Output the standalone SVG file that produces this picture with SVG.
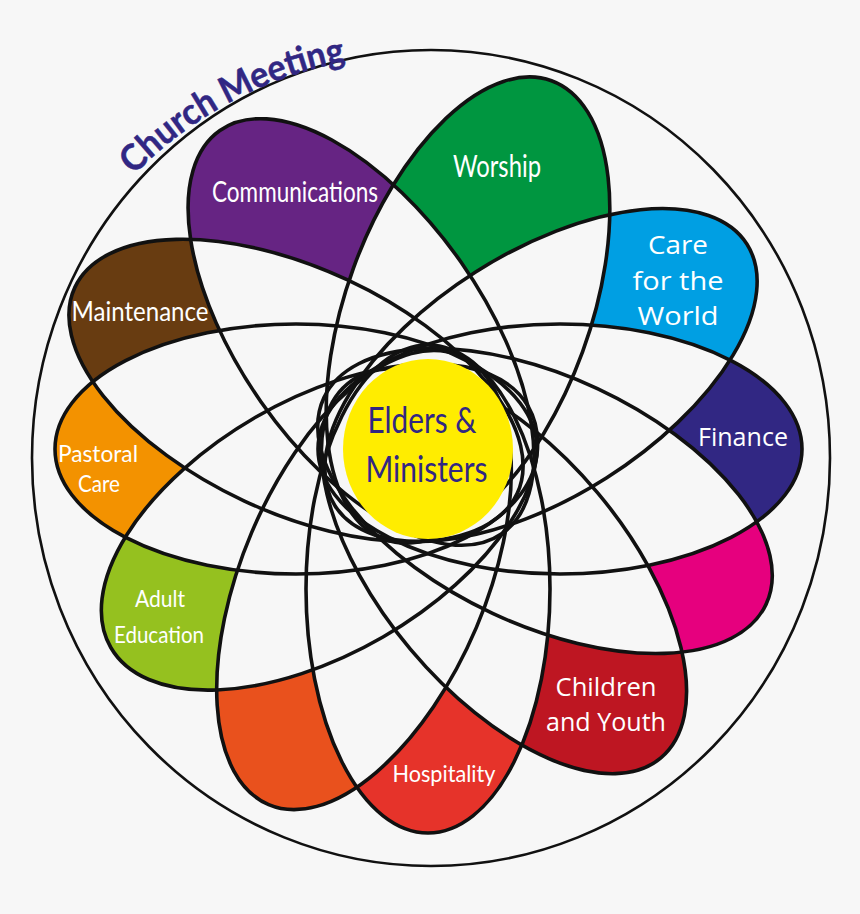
<svg xmlns="http://www.w3.org/2000/svg" width="860" height="914" viewBox="0 0 860 914">
<style>
.o{fill:none;stroke:#111;stroke-width:3.6}
.l text{fill:#fff;font-family:Lato,"Liberation Sans",sans-serif;text-anchor:middle;font-size:28px}
.l text.w{font-family:"Open Sans","Liberation Sans",sans-serif;font-size:25px}
.l text.s{font-size:24px}
.c text{fill:#312783;font-family:Lato,"Liberation Sans",sans-serif;text-anchor:middle;font-size:37px}
</style>
<defs>
<ellipse id="e0" rx="122" ry="244" transform="translate(468 310) rotate(20)"/>
<ellipse id="e1" rx="122" ry="244" transform="translate(541 375) rotate(57.6)"/>
<ellipse id="e2" rx="125" ry="242" transform="translate(560 449) rotate(90)"/>
<ellipse id="e3" rx="124" ry="244" transform="translate(545 501) rotate(115)"/>
<ellipse id="e4" rx="122" ry="244" transform="translate(504 571) rotate(140)"/>
<ellipse id="e5" rx="122" ry="244" transform="translate(428 589) rotate(180)"/>
<ellipse id="e6" rx="122" ry="244" transform="translate(364 580) rotate(203)"/>
<ellipse id="e7" rx="127" ry="241" transform="translate(319.500 527) rotate(240)"/>
<ellipse id="e8" rx="125" ry="241" transform="translate(296 449) rotate(270)"/>
<ellipse id="e9" rx="122" ry="244" transform="translate(296 390.500) rotate(295)"/>
<ellipse id="e10" rx="122" ry="246" transform="translate(361 332) rotate(325)"/>
<clipPath id="c0"><use href="#e0"/></clipPath>
<clipPath id="c1"><use href="#e1"/></clipPath>
<clipPath id="c2"><use href="#e2"/></clipPath>
<clipPath id="c3"><use href="#e3"/></clipPath>
<clipPath id="c4"><use href="#e4"/></clipPath>
<clipPath id="c5"><use href="#e5"/></clipPath>
<clipPath id="c6"><use href="#e6"/></clipPath>
<clipPath id="c7"><use href="#e7"/></clipPath>
<clipPath id="c8"><use href="#e8"/></clipPath>
<clipPath id="c9"><use href="#e9"/></clipPath>
<path id="arc" d="M134 175 A 399 408 0 0 1 356 60"/>
</defs>
<rect width="860" height="914" fill="#f7f7f7"/>
<ellipse cx="431" cy="458" rx="399" ry="408" fill="none" stroke="#111" stroke-width="2.6"/>
<g id="fills">
<use href="#e0" fill="#009640"/><use href="#e1" fill="#009fe3"/><use href="#e2" fill="#312783"/><use href="#e3" fill="#e6007e"/><use href="#e4" fill="#be1622"/><use href="#e5" fill="#e6332a"/><use href="#e6" fill="#e9511d"/><use href="#e7" fill="#95c11f"/><use href="#e8" fill="#f39200"/><use href="#e9" fill="#683c11"/><use href="#e10" fill="#662483"/>
</g>
<g id="overlaps" fill="#f7f7f7">
<g clip-path="url(#c0)"><use href="#e1"/><use href="#e2"/><use href="#e3"/><use href="#e4"/><use href="#e5"/><use href="#e6"/><use href="#e7"/><use href="#e8"/><use href="#e9"/><use href="#e10"/></g>
<g clip-path="url(#c1)"><use href="#e2"/><use href="#e3"/><use href="#e4"/><use href="#e5"/><use href="#e6"/><use href="#e7"/><use href="#e8"/><use href="#e9"/><use href="#e10"/></g>
<g clip-path="url(#c2)"><use href="#e3"/><use href="#e4"/><use href="#e5"/><use href="#e6"/><use href="#e7"/><use href="#e8"/><use href="#e9"/><use href="#e10"/></g>
<g clip-path="url(#c3)"><use href="#e4"/><use href="#e5"/><use href="#e6"/><use href="#e7"/><use href="#e8"/><use href="#e9"/><use href="#e10"/></g>
<g clip-path="url(#c4)"><use href="#e5"/><use href="#e6"/><use href="#e7"/><use href="#e8"/><use href="#e9"/><use href="#e10"/></g>
<g clip-path="url(#c5)"><use href="#e6"/><use href="#e7"/><use href="#e8"/><use href="#e9"/><use href="#e10"/></g>
<g clip-path="url(#c6)"><use href="#e7"/><use href="#e8"/><use href="#e9"/><use href="#e10"/></g>
<g clip-path="url(#c7)"><use href="#e8"/><use href="#e9"/><use href="#e10"/></g>
<g clip-path="url(#c8)"><use href="#e9"/><use href="#e10"/></g>
<g clip-path="url(#c9)"><use href="#e10"/></g>
</g>
<g id="outlines" class="o">
<use href="#e0"/><use href="#e1"/><use href="#e2"/><use href="#e3"/><use href="#e4"/><use href="#e5"/><use href="#e6"/><use href="#e7"/><use href="#e8"/><use href="#e9"/><use href="#e10"/>
</g>
<ellipse cx="428" cy="449" rx="85" ry="90" fill="#ffed00"/>
<g class="l">
<text x="497" y="177" textLength="88" lengthAdjust="spacingAndGlyphs" style="font-size:31px">Worship</text>
<text class="w" x="678" y="254" textLength="60" lengthAdjust="spacingAndGlyphs">Care</text><text class="w" x="678" y="290" textLength="91" lengthAdjust="spacingAndGlyphs">for the</text><text class="w" x="678" y="325" textLength="81" lengthAdjust="spacingAndGlyphs">World</text>
<text class="w" x="743" y="446" textLength="90" lengthAdjust="spacingAndGlyphs">Finance</text>
<text class="w" x="606" y="696" textLength="101" lengthAdjust="spacingAndGlyphs">Children</text><text class="w" x="606" y="731" textLength="120" lengthAdjust="spacingAndGlyphs">and Youth</text>
<text class="s" x="444" y="782" textLength="103" lengthAdjust="spacingAndGlyphs">Hospitality</text>
<text class="s" x="160" y="607" textLength="50" lengthAdjust="spacingAndGlyphs">Adult</text><text class="s" x="159" y="643" textLength="90" lengthAdjust="spacingAndGlyphs">Education</text>
<text class="s" x="98" y="462" textLength="80" lengthAdjust="spacingAndGlyphs">Pastoral</text><text class="s" x="99" y="492" textLength="42" lengthAdjust="spacingAndGlyphs">Care</text>
<text x="140" y="321" textLength="137" lengthAdjust="spacingAndGlyphs" style="font-size:26px">Maintenance</text>
<text x="295" y="202" textLength="166" lengthAdjust="spacingAndGlyphs">Communications</text>
</g>
<g class="c">
<text x="422" y="433" textLength="109" lengthAdjust="spacingAndGlyphs">Elders &amp;</text><text x="426.500" y="482" textLength="122" lengthAdjust="spacingAndGlyphs">Ministers</text>
</g>
<text style="fill:#312783;font-family:Lato,'Liberation Sans',sans-serif;font-size:36px;font-weight:700;stroke:#312783;stroke-width:.5"><textPath href="#arc" textLength="244" lengthAdjust="spacingAndGlyphs">Church Meeting</textPath></text>
</svg>
